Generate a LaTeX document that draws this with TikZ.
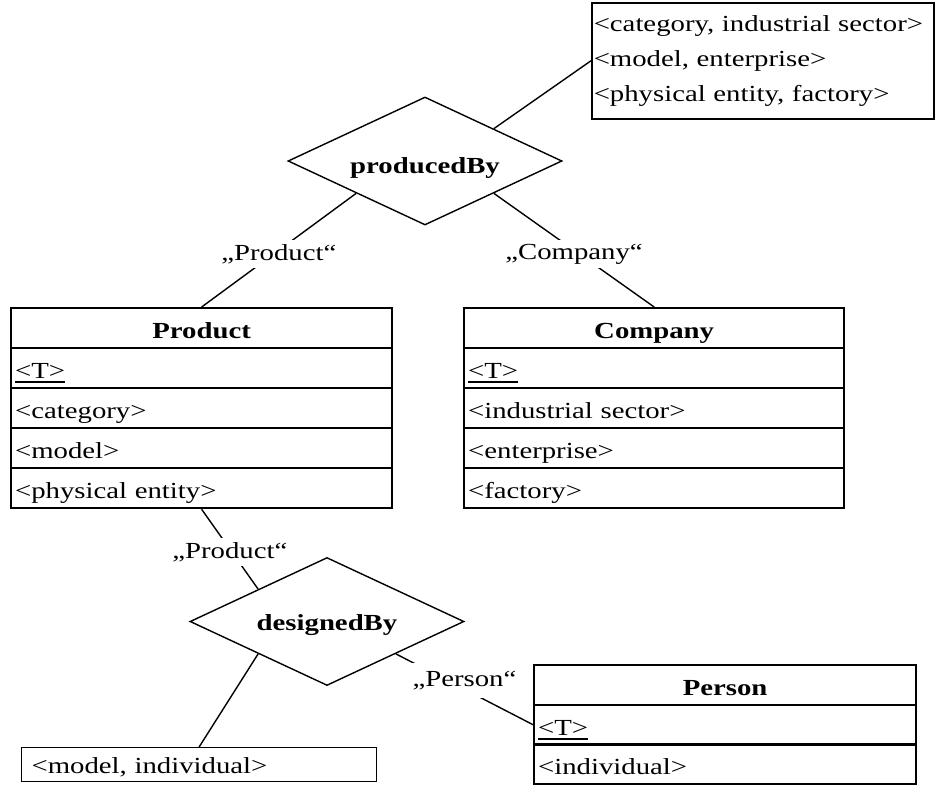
\documentclass[tikz,border=0pt]{standalone}
\usepackage{fontspec}
\setmainfont{Liberation Serif}[FakeStretch=1.25]
\usetikzlibrary{shapes.geometric}

% underline with a thicker rule, as used for key attributes
\newcommand\keyattr[1]{\setbox0\hbox{#1}\rlap{\rule[-4.5pt]{\wd0}{1.8pt}}\box0}

\begin{document}
\begin{tikzpicture}[x=1pt,y=-1pt,
  every node/.style={font=\fontsize{23}{35}\selectfont},
  row/.style={draw, rectangle, line width=2.3pt, anchor=north west,
    inner xsep=4pt, inner ysep=0pt, text height=21pt, text depth=0pt,
    align=left},
  head/.style={row, align=center, font=\fontsize{23}{35}\selectfont\bfseries},
  rel/.style={draw, diamond, shape aspect=2.14, line width=1.4pt,
    minimum width=274pt, minimum height=128pt, inner sep=0pt, text depth=0pt,
    font=\fontsize{23}{35}\selectfont\bfseries},
  note/.style={draw, rectangle, anchor=north west, align=left},
  conn/.style={line width=1.4pt},
  lbl/.style={fill=white, inner sep=4pt}
]
\useasboundingbox (0,0) rectangle (937,785);

% Product
\node[head, text width=373pt, minimum height=40pt] (prodH) at (10,307) {Product};
\node[row, text width=373pt, minimum height=40pt] (prodT) at (10,347) {\keyattr{<T>}};
\node[row, text width=373pt, minimum height=40pt] (prodC) at (10,387) {<category>};
\node[row, text width=373pt, minimum height=40pt] (prodM) at (10,427) {<model>};
\node[row, text width=373pt, minimum height=40pt] (prodP) at (10,467) {<physical entity>};

% Company
\node[head, text width=372pt, minimum height=40pt] (compH) at (463,307) {Company};
\node[row, text width=372pt, minimum height=40pt] (compT) at (463,347) {\keyattr{<T>}};
\node[row, text width=372pt, minimum height=40pt] (compI) at (463,387) {<industrial sector>};
\node[row, text width=372pt, minimum height=40pt] (compE) at (463,427) {<enterprise>};
\node[row, text width=372pt, minimum height=40pt] (compF) at (463,467) {<factory>};

% Person
\node[head, text width=374pt, minimum height=39.7pt] (persH) at (533,664) {Person};
\node[row, text width=374pt, minimum height=39.7pt] (persT) at (533,703.7) {\keyattr{<T>}};
\node[row, text width=374pt, minimum height=39.7pt] (persI) at (533,743.4) {<individual>};

% relationships
\node[rel, text height=24pt] (pb) at (425,161) {producedBy};
\node[rel, text height=18pt] (db) at (327,621.5) {designedBy};

% attribute correspondences
\node[note, line width=1.5pt, inner xsep=2pt, inner ysep=0pt,
  text width=338pt, minimum height=116pt] (pbmap) at (591,2)
  {<category, industrial sector>\\<model, enterprise>\\<physical entity, factory>};
\node[note, line width=1.2pt, inner xsep=10pt, inner ysep=0pt,
  text width=335pt, minimum height=34pt, text height=18pt, text depth=0pt]
  (dbmap) at (21,747) {<model, individual>};

% connectors
\draw[conn] (pb.north east) -- (pbmap.west);
\draw[conn] (pb.south west) -- node[lbl, pos=0.5, yshift=-4pt] {„Product“} (prodH.north);
\draw[conn] (pb.south east) -- node[lbl, pos=0.5, yshift=-4pt] {„Company“} (compH.north);
\draw[conn] (db.north west) -- node[lbl, pos=0.5, yshift=-3pt] {„Product“} (prodP.south);
\draw[conn] (db.south west) -- (dbmap.north);
\draw[conn] (db.south east) -- node[lbl, pos=0.5, yshift=9pt, inner xsep=2pt, inner ysep=8pt]
  {„Person“} (persT.west);
\end{tikzpicture}
\end{document}
